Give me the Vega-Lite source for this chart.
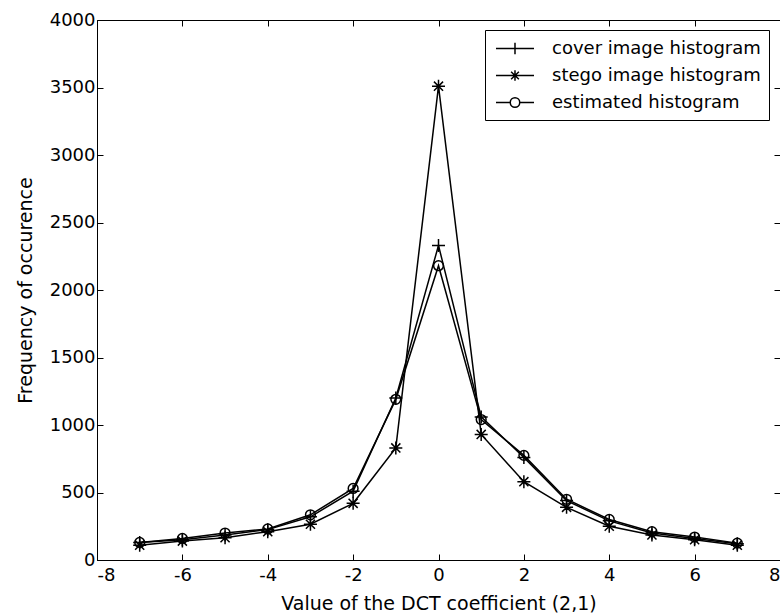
{
  "$schema": "https://vega.github.io/schema/vega-lite/v6.json",
  "width": 683,
  "height": 540,
  "autosize": {"type": "none"},
  "padding": {"left": 97, "top": 20, "right": 0, "bottom": 55},
  "background": "white",
  "config": {
    "font": "DejaVu Sans",
    "view": {"stroke": "black", "strokeWidth": 1},
    "axis": {
      "grid": false,
      "domainColor": "black",
      "tickColor": "black",
      "labelColor": "black",
      "titleColor": "black",
      "labelFont": "DejaVu Sans",
      "labelFontSize": 18,
      "titleFont": "DejaVu Sans",
      "titleFontSize": 19,
      "titleFontWeight": "normal",
      "tickSize": -6,
      "labelPadding": 8
    }
  },
  "data": {
    "values": [
      {"x": -7, "y": 130, "series": "cover image histogram"},
      {"x": -6, "y": 150, "series": "cover image histogram"},
      {"x": -5, "y": 185, "series": "cover image histogram"},
      {"x": -4, "y": 225, "series": "cover image histogram"},
      {"x": -3, "y": 320, "series": "cover image histogram"},
      {"x": -2, "y": 510, "series": "cover image histogram"},
      {"x": -1, "y": 1200, "series": "cover image histogram"},
      {"x": 0, "y": 2330, "series": "cover image histogram"},
      {"x": 1, "y": 1060, "series": "cover image histogram"},
      {"x": 2, "y": 760, "series": "cover image histogram"},
      {"x": 3, "y": 440, "series": "cover image histogram"},
      {"x": 4, "y": 290, "series": "cover image histogram"},
      {"x": 5, "y": 200, "series": "cover image histogram"},
      {"x": 6, "y": 160, "series": "cover image histogram"},
      {"x": 7, "y": 120, "series": "cover image histogram"},
      {"x": -7, "y": 110, "series": "stego image histogram"},
      {"x": -6, "y": 140, "series": "stego image histogram"},
      {"x": -5, "y": 165, "series": "stego image histogram"},
      {"x": -4, "y": 210, "series": "stego image histogram"},
      {"x": -3, "y": 265, "series": "stego image histogram"},
      {"x": -2, "y": 420, "series": "stego image histogram"},
      {"x": -1, "y": 830, "series": "stego image histogram"},
      {"x": 0, "y": 3510, "series": "stego image histogram"},
      {"x": 1, "y": 930, "series": "stego image histogram"},
      {"x": 2, "y": 580, "series": "stego image histogram"},
      {"x": 3, "y": 390, "series": "stego image histogram"},
      {"x": 4, "y": 250, "series": "stego image histogram"},
      {"x": 5, "y": 185, "series": "stego image histogram"},
      {"x": 6, "y": 150, "series": "stego image histogram"},
      {"x": 7, "y": 110, "series": "stego image histogram"},
      {"x": -7, "y": 130, "series": "estimated histogram"},
      {"x": -6, "y": 160, "series": "estimated histogram"},
      {"x": -5, "y": 200, "series": "estimated histogram"},
      {"x": -4, "y": 230, "series": "estimated histogram"},
      {"x": -3, "y": 335, "series": "estimated histogram"},
      {"x": -2, "y": 530, "series": "estimated histogram"},
      {"x": -1, "y": 1190, "series": "estimated histogram"},
      {"x": 0, "y": 2180, "series": "estimated histogram"},
      {"x": 1, "y": 1040, "series": "estimated histogram"},
      {"x": 2, "y": 775, "series": "estimated histogram"},
      {"x": 3, "y": 450, "series": "estimated histogram"},
      {"x": 4, "y": 300, "series": "estimated histogram"},
      {"x": 5, "y": 210, "series": "estimated histogram"},
      {"x": 6, "y": 170, "series": "estimated histogram"},
      {"x": 7, "y": 125, "series": "estimated histogram"}
    ]
  },
  "layer": [
    {
      "mark": {"type": "line", "color": "black", "strokeWidth": 1.5},
      "encoding": {
        "x": {
          "field": "x", "type": "quantitative",
          "scale": {"domain": [-8, 8], "nice": false, "zero": false},
          "axis": {"values": [-8, -6, -4, -2, 0, 2, 4, 6, 8], "labelExpr": "'' + datum.value", "labelPadding": 12, "titlePadding": 10, "title": "Value of the DCT coefficient (2,1)"}
        },
        "y": {
          "field": "y", "type": "quantitative",
          "scale": {"domain": [0, 4000], "nice": false},
          "axis": {"values": [0, 500, 1000, 1500, 2000, 2500, 3000, 3500, 4000], "labelExpr": "'' + datum.value", "titlePadding": 14, "title": "Frequency of occurence"}
        },
        "detail": {"field": "series", "type": "nominal"}
      }
    },
    {
      "mark": {"type": "point", "filled": false, "color": "black", "strokeWidth": 1.5, "size": 169, "opacity": 1},
      "encoding": {
        "x": {
          "field": "x", "type": "quantitative",
          "axis": {"orient": "top", "labels": false, "title": null, "domain": false, "values": [-8, -6, -4, -2, 0, 2, 4, 6, 8]}
        },
        "y": {
          "field": "y", "type": "quantitative",
          "axis": {"orient": "right", "labels": false, "title": null, "domain": false, "values": [0, 500, 1000, 1500, 2000, 2500, 3000, 3500, 4000]}
        },
        "shape": {
          "field": "series", "type": "nominal",
          "scale": {
            "domain": ["cover image histogram", "stego image histogram", "estimated histogram"],
            "range": [
              "M-1,0L1,0M0,-1L0,1",
              "M-1,0L1,0M0,-1L0,1M-0.7,-0.7L0.7,0.7M-0.7,0.7L0.7,-0.7",
              "M0.75,0A0.75,0.75,0,1,1,-0.75,0A0.75,0.75,0,1,1,0.75,0"
            ]
          },
          "legend": null
        }
      }
    },
    {
      "mark": {"type": "point", "filled": false, "color": "black", "strokeWidth": 1.5, "opacity": 0},
      "encoding": {
        "x": {"field": "x", "type": "quantitative", "axis": null},
        "y": {"field": "y", "type": "quantitative", "axis": null},
        "shape": {
          "field": "series", "type": "nominal",
          "scale": {
            "domain": ["cover image histogram", "stego image histogram", "estimated histogram"],
            "range": [
              "M-0.79,0L3.21,0M1.21,-0.6L1.21,0.6",
              "M-0.79,0L3.21,0M1.21,-0.55L1.21,0.55M0.8,-0.4L1.62,0.4M0.8,0.4L1.62,-0.4",
              "M-0.79,0L0.71,0M1.71,0L3.21,0M1.71,0A0.5,0.5,0,1,1,0.71,0A0.5,0.5,0,1,1,1.71,0"
            ]
          },
          "legend": {
            "title": null,
            "orient": "none",
            "legendX": 388,
            "legendY": 10,
            "padding": 8,
            "strokeColor": "black",
            "fillColor": "white",
            "symbolSize": 361,
            "symbolOpacity": 1,
            "labelOffset": 38,
            "labelLimit": 400,
            "rowPadding": 7,
            "labelFont": "DejaVu Sans",
            "labelFontSize": 18,
            "labelColor": "black",
            "symbolStrokeWidth": 1.5,
            "symbolStrokeColor": "black",
            "symbolFillColor": "transparent"
          }
        }
      }
    }
  ],
  "resolve": {"axis": {"x": "independent", "y": "independent"}, "scale": {"shape": "independent"}}
}
